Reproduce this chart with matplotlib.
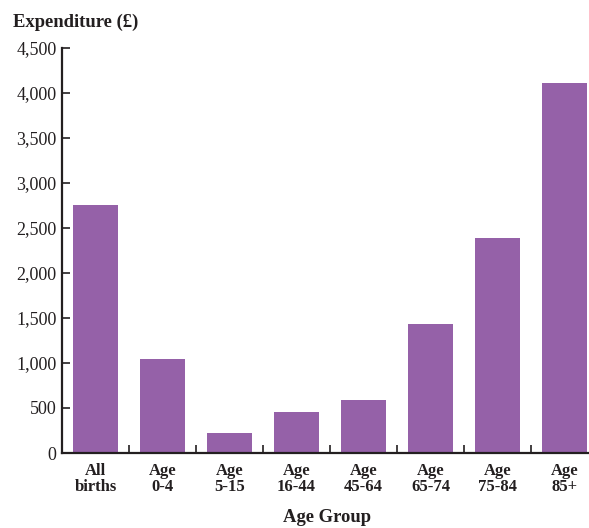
import matplotlib.pyplot as plt
from matplotlib.ticker import FuncFormatter, FixedLocator

categories = ["All\nbirths", "Age\n0-4", "Age\n5-15", "Age\n16-44", "Age\n45-64",
              "Age\n65-74", "Age\n75-84", "Age\n85+"]
expenditure = [2760, 1045, 225, 455, 590, 1435, 2390, 4115]
y_ticks = [0, 500, 1000, 1500, 2000, 2500, 3000, 3500, 4000, 4500]

plt.rcParams["font.family"] = ["Liberation Serif", "DejaVu Serif"]
color = "#9561a8"
ink = "#231f20"

fig = plt.figure(figsize=(5.89, 5.28), dpi=100)
ax = fig.add_axes([62 / 589, (528 - 453) / 528, 536 / 589, 405 / 528])

x = range(len(categories))
ax.bar(x, expenditure, width=0.68, color=color)
ax.set_xlim(-0.5, len(categories) - 0.5)
ax.set_ylim(0, 4500)
ax.set_yticks(y_ticks)
ax.yaxis.set_major_formatter(FuncFormatter(lambda v, _: f"{int(v):,}"))

ax.set_xticks(list(x))
ax.set_xticklabels(categories, fontweight="bold", fontsize=12, linespacing=1.0)
ax.tick_params(axis="x", which="major", length=0, pad=7, colors=ink)
ax.xaxis.set_minor_locator(FixedLocator([i + 0.5 for i in range(len(categories) - 1)]))
ax.tick_params(axis="x", which="minor", direction="in", length=6, width=1.2, color=ink)
ax.tick_params(axis="y", direction="in", length=6, width=1.2, labelsize=13, colors=ink, pad=4)

for side in ("top", "right"):
    ax.spines[side].set_visible(False)
for side in ("left", "bottom"):
    ax.spines[side].set_linewidth(1.6)
    ax.spines[side].set_color(ink)

fig.text(13 / 589, 1 - 22 / 528, "Expenditure (£)", fontweight="bold", fontsize=13.4,
         va="center", ha="left", color=ink)
fig.text(327 / 589, 1 - 518 / 528, "Age Group", fontweight="bold", fontsize=13.4,
         va="center", ha="center", color=ink)

fig.savefig("out.png", dpi=100)
